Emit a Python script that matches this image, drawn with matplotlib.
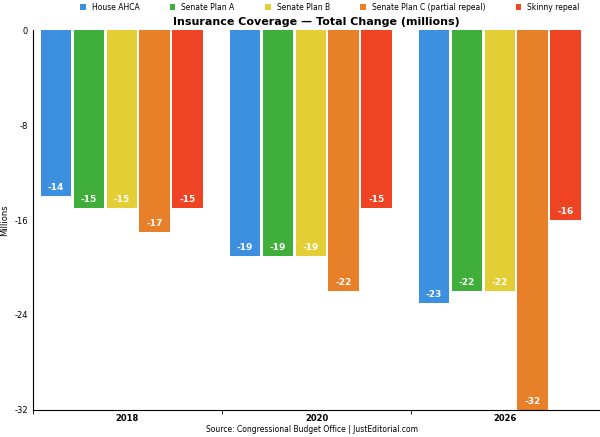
import numpy as np
import matplotlib.pyplot as plt

years = ["2018", "2020", "2026"]
series = ["House AHCA", "Senate Plan A", "Senate Plan B",
          "Senate Plan C (partial repeal)", "Skinny repeal"]
house = [-14, -19, -23]
plan_a = [-15, -19, -22]
plan_b = [-15, -19, -22]
plan_c = [-17, -22, -32]
skinny = [-15, -15, -16]
values = [house, plan_a, plan_b, plan_c, skinny]
colors = ["#3d8fe0", "#3fae3a", "#e3cf35", "#e8802a", "#ee4424"]

fig = plt.figure(figsize=(6, 4.37), dpi=100)
ax = fig.add_axes([0.055, 0.062, 0.945, 0.869])

x = np.arange(len(years))
w = 0.172
for i, (name, vals, c) in enumerate(zip(series, values, colors)):
    pos = x - 0.5 + 0.035 + w * (i + 0.5) + 0.002 * i
    bars = ax.bar(pos, vals, w * 0.93, color=c, label=name)
    for b, v in zip(bars, vals):
        ax.text(b.get_x() + b.get_width() / 2, v + 0.7, str(v), ha="center",
                va="center", color="white", fontsize=6.5, fontweight="bold")

ax.set_xlim(-0.5, 2.5)
ax.set_ylim(-32, 0)
ax.set_yticks([0, -8, -16, -24, -32])
ax.set_yticklabels(["0", "-8", "-16", "-24", "-32"])
ax.set_xticks([0, 1, 2])
ax.set_xticklabels(years)
ax.set_xticks([-0.5, 0.5, 1.5, 2.5], minor=True)
ax.tick_params(axis="x", which="major", length=0, pad=3, labelsize=6)
ax.tick_params(axis="x", which="minor", length=3)
ax.tick_params(axis="y", length=0, labelsize=6)
for lbl in ax.get_xticklabels():
    lbl.set_fontweight("bold")
ax.set_ylabel("Millions", fontsize=6)
for s in ["top", "right"]:
    ax.spines[s].set_visible(False)
ax.patch.set_alpha(0)

ax.set_title("Insurance Coverage \u2014 Total Change (millions)", fontsize=8,
             fontweight="bold", pad=4)
fig.legend(loc="upper center", ncol=5, fontsize=5.5, frameon=False,
           handlelength=0.7, handleheight=0.7, columnspacing=4,
           bbox_to_anchor=(0.55, 1.01))
fig.text(0.52, 0.006, "Source: Congressional Budget Office | JustEditorial.com",
         ha="center", va="bottom", fontsize=5.5)

fig.savefig("out.png", transparent=True)
